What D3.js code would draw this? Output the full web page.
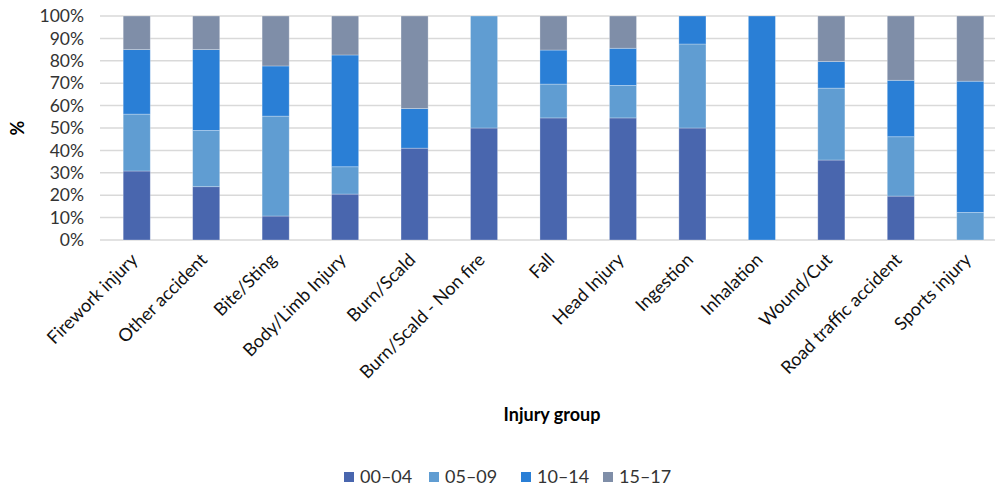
<!DOCTYPE html>
<html>
<head>
<meta charset="utf-8">
<script src="https://cdn.jsdelivr.net/npm/d3@7"></script>
<style>
  body { margin: 0; background: #fff; }
  svg { display: block; font-family: Lato, "Open Sans", sans-serif; }
</style>
</head>
<body>
<div id="chart"></div>
<script>
// categories and values (percent of each injury group)
var groups = ["Firework injury", "Other accident", "Bite/Sting", "Body/Limb Injury", "Burn/Scald",
  "Burn/Scald - Non fire", "Fall", "Head Injury", "Ingestion", "Inhalation", "Wound/Cut",
  "Road traffic accident", "Sports injury"];
var ageBands = ["00\u201304", "05\u201309", "10\u201314", "15\u201317"];
var age0004 = [30.8, 23.8, 10.7, 20.5, 41.0, 50.0, 54.5, 54.5, 50.0, 0, 35.7, 19.6, 0];
var age0509 = [25.4, 25.1, 44.6, 12.2, 0, 50.0, 15.1, 14.5, 37.5, 0, 32.1, 26.5, 12.3];
var age1014 = [28.8, 36.1, 22.4, 49.9, 17.7, 0, 15.2, 16.6, 12.5, 100, 11.9, 25.2, 58.6];
var age1517 = [15.0, 15.0, 22.3, 17.4, 41.3, 0, 15.2, 14.4, 0, 0, 20.3, 28.7, 29.1];
var yTicks = [0, 10, 20, 30, 40, 50, 60, 70, 80, 90, 100];
var colors = ["#4966ae", "#609dd2", "#2a7fd6", "#7f8ea8"];

var width = 995, height = 488;
var margin = {top: 16, left: 100, bottom: 240};

var rows = groups.map(function(g, i) {
  var r = {group: g};
  r[ageBands[0]] = age0004[i];
  r[ageBands[1]] = age0509[i];
  r[ageBands[2]] = age1014[i];
  r[ageBands[3]] = age1517[i];
  return r;
});

var x = d3.scaleBand()
    .domain(groups)
    .range([102, 1005])
    .paddingInner(0.61)
    .paddingOuter(0.305);
var y = d3.scaleLinear()
    .domain([0, 100])
    .range([margin.bottom, margin.top]);
var color = d3.scaleOrdinal().domain(ageBands).range(colors);

var svg = d3.select("#chart").append("svg")
    .attr("width", width)
    .attr("height", height);

// gridlines
svg.append("g")
  .selectAll("line")
  .data(yTicks)
  .enter().append("line")
    .attr("x1", margin.left)
    .attr("x2", width)
    .attr("y1", function(d) { return y(d); })
    .attr("y2", function(d) { return y(d); })
    .attr("stroke", "#d9d9d9")
    .attr("stroke-width", 1.5);

// y axis labels
var yAxis = svg.append("g")
    .attr("transform", "translate(84,0)")
    .call(d3.axisLeft(y).tickValues(yTicks).tickSize(0).tickPadding(0)
      .tickFormat(function(d) { return d + "%"; }));
yAxis.select(".domain").remove();
yAxis.selectAll("text")
    .attr("font-family", "Lato, sans-serif")
    .attr("font-size", 17.5)
    .attr("fill", "#333");

// stacked bars
var stack = d3.stack().keys(ageBands)(rows);
svg.append("g")
  .selectAll("g")
  .data(stack)
  .enter().append("g")
    .attr("fill", function(d) { return color(d.key); })
  .selectAll("rect")
  .data(function(d) { return d; })
  .enter().append("rect")
    .attr("x", function(d) { return x(d.data.group); })
    .attr("width", x.bandwidth())
    .attr("y", function(d) { return y(d[1]); })
    .attr("height", function(d) { return y(d[0]) - y(d[1]); })
    .attr("stroke", "rgba(255,255,255,0.35)")
    .attr("stroke-width", 0.8);

// x axis labels, rotated
var xAxis = svg.append("g")
    .attr("transform", "translate(0," + margin.bottom + ")")
    .call(d3.axisBottom(x).tickSize(0).tickPadding(0));
xAxis.select(".domain").remove();
xAxis.selectAll("text")
    .attr("font-family", "Lato, sans-serif")
    .attr("font-size", 18)
    .attr("fill", "#111")
    .attr("text-anchor", "end")
    .attr("dy", 0)
    .attr("transform", "translate(2,21) rotate(-45)");

// axis titles
svg.append("text")
    .attr("transform", "translate(24,128) rotate(-90)")
    .attr("text-anchor", "middle")
    .attr("font-size", 18)
    .attr("font-weight", "bold")
    .text("%");

svg.append("text")
    .attr("x", 552)
    .attr("y", 421)
    .attr("text-anchor", "middle")
    .attr("font-size", 18)
    .attr("font-weight", "bold")
    .text("Injury group");

// legend
var legendX = [344, 429, 521, 603];
var legend = svg.append("g")
  .selectAll("g")
  .data(ageBands)
  .enter().append("g")
    .attr("transform", function(d, i) { return "translate(" + legendX[i] + ",472)"; });
legend.append("rect")
    .attr("width", 10)
    .attr("height", 10)
    .attr("fill", function(d) { return color(d); });
legend.append("text")
    .attr("x", 16)
    .attr("y", 10.5)
    .attr("font-size", 18)
    .attr("fill", "#333")
    .text(function(d) { return d; });
</script>
</body>
</html>
